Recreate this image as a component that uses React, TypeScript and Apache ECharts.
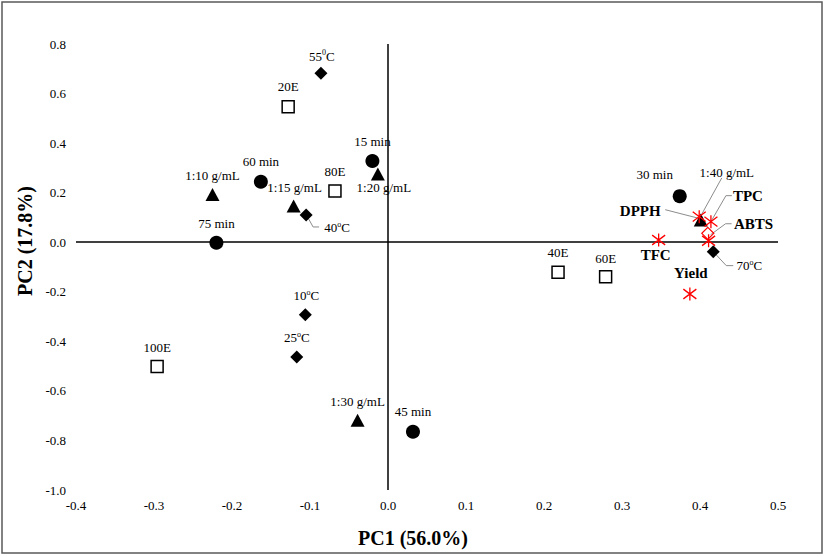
import React, { useEffect, useRef } from "react";
import * as echarts from "echarts";

// ---- Data ----
const timeLabels = ["15 min", "30 min", "45 min", "60 min", "75 min"];
const timePC1 = [-0.02, 0.374, 0.032, -0.163, -0.22];
const timePC2 = [0.328, 0.186, -0.765, 0.244, -0.002];

const ratioLabels = ["1:10 g/mL", "1:15 g/mL", "1:20 g/mL", "1:30 g/mL", "1:40 g/mL"];
const ratioPC1 = [-0.225, -0.121, -0.013, -0.039, 0.401];
const ratioPC2 = [0.193, 0.146, 0.275, -0.718, 0.09];

const tempLabels = ["10ºC", "25ºC", "40ºC", "55⁰C", "70ºC"];
const tempPC1 = [-0.106, -0.117, -0.105, -0.086, 0.417];
const tempPC2 = [-0.293, -0.463, 0.11, 0.682, -0.038];

const ethanolLabels = ["20E", "40E", "60E", "80E", "100E"];
const ethanolPC1 = [-0.128, 0.218, 0.279, -0.068, -0.296];
const ethanolPC2 = [0.547, -0.121, -0.139, 0.207, -0.502];

const responseLabels = ["TPC", "TFC", "DPPH", "ABTS", "Yield"];
const responsePC1 = [0.414, 0.347, 0.399, 0.411, 0.387];
const responsePC2 = [0.083, 0.009, 0.103, 0.006, -0.209];

const extraPC1 = [0.41];
const extraPC2 = [0.036];

const xTicks = { min: -0.4, max: 0.5, step: 0.1 };
const yTicks = { min: -1.0, max: 0.8, step: 0.2 };

// ---- Label placement (pixel offsets from marker centre) ----
const labelOffsets: Record<string, [number, number]> = {
  "15 min": [0, -19],
  "30 min": [-25, -22],
  "45 min": [0, -20],
  "60 min": [0, -20],
  "75 min": [0, -19],
  "1:10 g/mL": [0, -19],
  "1:15 g/mL": [1, -19],
  "1:20 g/mL": [6, 13],
  "1:30 g/mL": [0, -19],
  "1:40 g/mL": [26, -47],
  "10ºC": [1, -19],
  "25ºC": [0, -19],
  "40ºC": [31, 13],
  "55⁰C": [1, -17],
  "70ºC": [36, 14],
  "20E": [0, -20],
  "40E": [0, -20],
  "60E": [0, -18],
  "80E": [0, -19],
  "100E": [0, -19],
  TPC: [37, -26],
  TFC: [-3, 15],
  DPPH: [-59, -6],
  ABTS: [45, -17],
  Yield: [1, -21],
};

// Leader lines: polyline pixel offsets from marker centre
const leaderLines: Record<string, [number, number][]> = {
  "40ºC": [[2, 3], [7, 12], [13, 12]],
  "1:40 g/mL": [[0, -4], [21, -42]],
  TPC: [[0, 0], [15, -26], [21, -26]],
  DPPH: [[1, 2], [-34, -7]],
  ABTS: [[2, -6], [17, -17], [23, -17]],
  "70ºC": [[0, 0], [13, 14], [20, 14]],
};

const FONT = '"Liberation Serif", "Times New Roman", serif';

function fmtLabel(name: string) {
  if (name.includes("º")) return name.replace("º", "{s|o}");
  if (name.includes("⁰")) return name.replace("⁰", "{s|0}");
  return name;
}

const richSup = {
  s: { fontSize: 8, fontFamily: FONT, color: "#000", verticalAlign: "top", lineHeight: 15 },
};

function makeData(labels: string[], xs: number[], ys: number[], bold = false) {
  return labels.map((n, i) => {
    const off = labelOffsets[n] || [0, -19];
    return {
      name: n,
      value: [xs[i], ys[i]],
      label: {
        show: true,
        position: "inside",
        offset: off,
        align: "center",
        verticalAlign: "middle",
        formatter: () => fmtLabel(n),
        fontFamily: FONT,
        fontSize: bold ? 15 : 13,
        fontWeight: bold ? "bold" : "normal",
        color: "#000",
        lineHeight: 15,
        rich: richSup,
      },
    };
  });
}

const ASTERISK = "path://M6,0L6,12M1.5,1.5L10.5,10.5M1.5,10.5L10.5,1.5";

export default function App() {
  const ref = useRef<HTMLDivElement>(null);

  useEffect(() => {
    if (!ref.current) return;
    const chart = echarts.init(ref.current, null, { renderer: "svg" });

    const allNames = [...timeLabels, ...ratioLabels, ...tempLabels, ...ethanolLabels, ...responseLabels];
    const allX = [...timePC1, ...ratioPC1, ...tempPC1, ...ethanolPC1, ...responsePC1];
    const allY = [...timePC2, ...ratioPC2, ...tempPC2, ...ethanolPC2, ...responsePC2];
    const leaderNames = Object.keys(leaderLines);
    const leaderData = leaderNames.map((n) => {
      const i = allNames.indexOf(n);
      return [allX[i], allY[i]];
    });

    const option: any = {
      animation: false,
      backgroundColor: "#fff",
      graphic: [
        {
          type: "rect",
          shape: { x: 2, y: 2, width: 820, height: 551 },
          style: { fill: "none", stroke: "#595959", lineWidth: 1.5 },
          silent: true,
        },
      ],
      grid: { left: 76, right: 49, top: 44, bottom: 67, containLabel: false },
      xAxis: {
        type: "value",
        min: xTicks.min,
        max: xTicks.max,
        interval: xTicks.step,
        axisLine: { show: false },
        axisTick: { show: false },
        splitLine: { show: false },
        axisLabel: {
          formatter: (v: number) => v.toFixed(1),
          fontFamily: FONT,
          fontSize: 13,
          color: "#000",
          margin: 9,
        },
        name: "PC1 (56.0%)",
        nameLocation: "middle",
        nameGap: 38,
        nameTextStyle: {
          fontFamily: FONT,
          fontSize: 20,
          fontWeight: "bold",
          color: "#000",
          padding: [0, 28, 0, 0],
        },
      },
      yAxis: {
        type: "value",
        min: yTicks.min,
        max: yTicks.max,
        interval: yTicks.step,
        axisLine: { show: false },
        axisTick: { show: false },
        splitLine: { show: false },
        axisLabel: {
          formatter: (v: number) => v.toFixed(1),
          fontFamily: FONT,
          fontSize: 13,
          color: "#000",
          margin: 10,
        },
        name: "PC2 (17.8%)",
        nameLocation: "middle",
        nameRotate: 90,
        nameGap: 40,
        nameTextStyle: {
          fontFamily: FONT,
          fontSize: 20,
          fontWeight: "bold",
          color: "#000",
          padding: [0, 0, 0, 52],
        },
      },
      series: [
        {
          type: "custom",
          coordinateSystem: "cartesian2d",
          silent: true,
          z: 1,
          data: leaderData,
          renderItem: (params: any, api: any) => {
            const c = api.coord([api.value(0), api.value(1)]);
            const offs = leaderLines[leaderNames[params.dataIndex]];
            return {
              type: "polyline",
              shape: { points: offs.map((o) => [c[0] + o[0], c[1] + o[1]]) },
              style: { stroke: "#8c8c8c", lineWidth: 1, fill: "none" },
            };
          },
          markLine: {
            silent: true,
            symbol: ["none", "none"],
            label: { show: false },
            lineStyle: { color: "#000", width: 1.5, type: "solid" },
            data: [{ xAxis: 0 }, { yAxis: 0 }],
          },
        },
        {
          name: "Ethanol",
          type: "scatter",
          symbol: "rect",
          symbolSize: 12,
          itemStyle: { color: "#fff", borderColor: "#000", borderWidth: 1.5, opacity: 1 },
          data: makeData(ethanolLabels, ethanolPC1, ethanolPC2),
          z: 3,
        },
        {
          name: "Time",
          type: "scatter",
          symbol: "circle",
          symbolSize: 14,
          itemStyle: { color: "#000", opacity: 1 },
          data: makeData(timeLabels, timePC1, timePC2),
          z: 3,
        },
        {
          name: "Ratio",
          type: "scatter",
          symbol: "triangle",
          symbolSize: [14, 13],
          itemStyle: { color: "#000", opacity: 1 },
          data: makeData(ratioLabels, ratioPC1, ratioPC2),
          z: 3,
        },
        {
          name: "Temperature",
          type: "scatter",
          symbol: "diamond",
          symbolSize: 13,
          itemStyle: { color: "#000", opacity: 1 },
          data: makeData(tempLabels, tempPC1, tempPC2),
          z: 3,
        },
        {
          name: "Extra",
          type: "scatter",
          symbol: "diamond",
          symbolSize: 12,
          itemStyle: { color: "none", borderColor: "#ff0000", borderWidth: 1.2, opacity: 1 },
          data: extraPC1.map((x, i) => [x, extraPC2[i]]),
          z: 4,
        },
        {
          name: "Responses",
          type: "scatter",
          symbol: ASTERISK,
          symbolSize: 13,
          itemStyle: { color: "none", borderColor: "#ff0000", borderWidth: 1.3, opacity: 1 },
          data: makeData(responseLabels, responsePC1, responsePC2, true),
          z: 5,
        },
      ],
    };

    chart.setOption(option);
    return () => chart.dispose();
  }, []);

  return (
    <div
      ref={ref}
      style={{ position: "fixed", left: 0, top: 0, width: 827, height: 557, background: "#fff" }}
    />
  );
}
